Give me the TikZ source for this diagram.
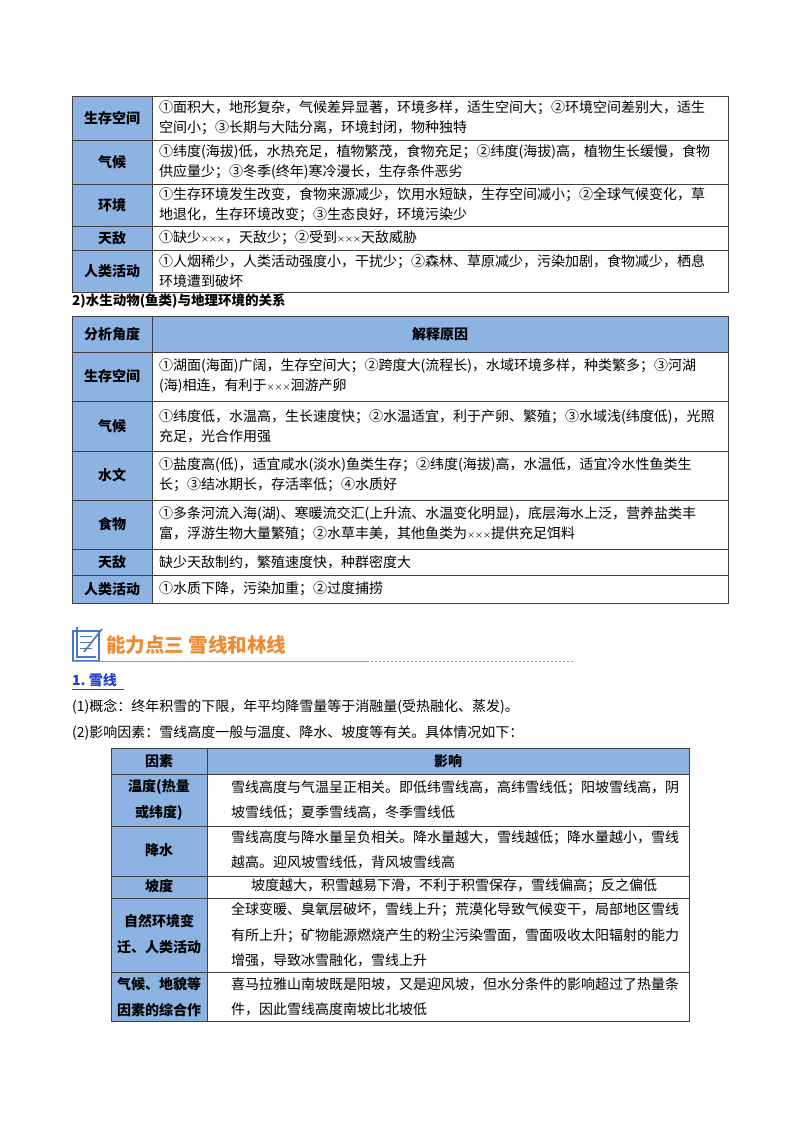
\documentclass[tikz,border=0pt]{standalone}
\usepackage{fontspec}
\setmainfont{Noto Sans CJK SC}
\definecolor{hdr}{HTML}{8DB3E2}
\definecolor{org}{HTML}{F08A2E}
\definecolor{lnk}{HTML}{1F3FD0}
\definecolor{ic}{HTML}{4A78C8}
\newcommand{\xxx}{{\fontsize{8}{8}\selectfont ×××}}
\begin{document}
\begin{tikzpicture}[x=1pt,y=-1pt,
  lab/.style={font=\fontsize{14}{18}\selectfont\bfseries,align=center,inner sep=0pt},
  txt/.style={font=\fontsize{14}{20}\selectfont,align=left,anchor=west,inner sep=0pt},
  txtb/.style={font=\fontsize{14}{25.5}\selectfont,align=left,anchor=west,inner sep=0pt},
  cell/.style={draw=black!75,line width=0.7pt},
  plain/.style={font=\fontsize{14}{18}\selectfont,anchor=west,inner sep=0pt}]
\useasboundingbox (0,0) rectangle (800,1132);
% ---------- Table 1
\fill[hdr] (72,96) rectangle (152,292);
\foreach \t/\b in {96/140,140/184,184/226,226/250,250/292}{
  \draw[cell] (72,\t) rectangle (152,\b);
  \draw[cell] (152,\t) rectangle (728,\b);}
\node[lab] (a1) at (112,118) {生存空间};
\node[txt] (b1) at (159,118) {①面积大，地形复杂，气候差异显著，环境多样，适生空间大；②环境空间差别大，适生\\空间小；③长期与大陆分离，环境封闭，物种独特};
\node[lab] (a2) at (112,162) {气候};
\node[txt] (b2) at (159,162) {①纬度(海拔)低，水热充足，植物繁茂，食物充足；②纬度(海拔)高，植物生长缓慢，食物\\供应量少；③冬季(终年)寒冷漫长，生存条件恶劣};
\node[lab] (a3) at (112,205) {环境};
\node[txt] (b3) at (159,205) {①生存环境发生改变，食物来源减少，饮用水短缺，生存空间减小；②全球气候变化，草\\地退化，生存环境改变；③生态良好，环境污染少};
\node[lab] (a4) at (112,238) {天敌};
\node[txt] (b4) at (159,238) {①缺少\xxx，天敌少；②受到\xxx 天敌威胁};
\node[lab] (a5) at (112,271) {人类活动};
\node[txt] (b5) at (159,271) {①人烟稀少，人类活动强度小，干扰少；②森林、草原减少，污染加剧，食物减少，栖息\\环境遭到破坏};
\node[plain,font=\fontsize{13.5}{16}\selectfont\bfseries] (cap) at (72,301) {2)水生动物(鱼类)与地理环境的关系};
% ---------- Table 2
\fill[hdr] (72,316) rectangle (728,352);
\fill[hdr] (72,352) rectangle (152,603);
\foreach \t/\b in {316/352,352/401,401/451,451/500,500/549,549/575,575/603}{
  \draw[cell] (72,\t) rectangle (152,\b);
  \draw[cell] (152,\t) rectangle (728,\b);}
\node[lab] (c0) at (112,334) {分析角度};
\node[lab] (d0) at (440,334) {解释原因};
\node[lab] (c1) at (112,376) {生存空间};
\node[txt] (d1) at (159,376) {①湖面(海面)广阔，生存空间大；②跨度大(流程长)，水域环境多样，种类繁多；③河湖\\(海)相连，有利于\xxx 洄游产卵};
\node[lab] (c2) at (112,426) {气候};
\node[txt] (d2) at (159,426) {①纬度低，水温高，生长速度快；②水温适宜，利于产卵、繁殖；③水域浅(纬度低)，光照\\充足，光合作用强};
\node[lab] (c3) at (112,475) {水文};
\node[txt] (d3) at (159,475) {①盐度高(低)，适宜咸水(淡水)鱼类生存；②纬度(海拔)高，水温低，适宜冷水性鱼类生\\长；③结冰期长，存活率低；④水质好};
\node[lab] (c4) at (112,524) {食物};
\node[txt] (d4) at (159,524) {①多条河流入海(湖)、寒暖流交汇(上升流、水温变化明显)，底层海水上泛，营养盐类丰\\富，浮游生物大量繁殖；②水草丰美，其他鱼类为\xxx 提供充足饵料};
\node[lab] (c5) at (112,562) {天敌};
\node[txt] (d5) at (159,562) {缺少天敌制约，繁殖速度快，种群密度大};
\node[lab] (c6) at (112,589) {人类活动};
\node[txt] (d6) at (159,589) {①水质下降，污染加重；②过度捕捞};
% ---------- Heading
\begin{scope}[line width=1.3pt,draw=ic]
\draw (73,631) rectangle (99,661);
\draw (77,627) -- (77,657) -- (96,657);
\foreach \yy in {636,642,648}{\draw[line width=0.9pt] (80,\yy) -- (92,\yy);}
\draw[line width=1.6pt] (84,652) -- (102,629);
\end{scope}
\node[plain,font=\fontsize{19.5}{24}\selectfont\bfseries,text=org] (h) at (106,645) {能力点三\ 雪线和林线};
\draw[ic!70,line width=0.8pt] (72,661) -- (367,661);
\draw[ic!70,line width=0.8pt,dash pattern=on 2pt off 2pt] (367,661) -- (574,661);
\node[plain,font=\fontsize{14}{18}\selectfont\bfseries,text=lnk] (s1) at (72,680) {1.\ 雪线};
\draw[lnk,line width=0.8pt] (72,689) -- (124,689);
\node[plain] (p1) at (72,707) {(1)概念：终年积雪的下限，年平均降雪量等于消融量(受热融化、蒸发)。};
\node[plain] (p2) at (72,733) {(2)影响因素：雪线高度一般与温度、降水、坡度等有关。具体情况如下：};
% ---------- Table 3
\fill[hdr] (111,748) rectangle (689,774);
\fill[hdr] (111,774) rectangle (207,1021);
\foreach \t/\b in {748/774,774/826,826/876,876/898,898/972,972/1021}{
  \draw[cell] (111,\t) rectangle (207,\b);
  \draw[cell] (207,\t) rectangle (689,\b);}
\node[lab] (e0) at (159,761) {因素};
\node[lab] (f0) at (448,761) {影响};
\node[lab,font=\fontsize{14}{25.5}\selectfont\bfseries] (e1) at (159,800) {温度(热量\\或纬度)};
\node[txtb] (f1) at (231,800) {雪线高度与气温呈正相关。即低纬雪线高，高纬雪线低；阳坡雪线高，阴\\坡雪线低；夏季雪线高，冬季雪线低};
\node[lab] (e2) at (159,850) {降水};
\node[txtb] (f2) at (231,850) {雪线高度与降水量呈负相关。降水量越大，雪线越低；降水量越小，雪线\\越高。迎风坡雪线低，背风坡雪线高};
\node[lab] (e3) at (159,886) {坡度};
\node[txtb] (f3) at (251,886) {坡度越大，积雪越易下滑，不利于积雪保存，雪线偏高；反之偏低};
\node[lab,font=\fontsize{14}{25.5}\selectfont\bfseries] (e4) at (159,934) {自然环境变\\迁、人类活动};
\node[txtb] (f4) at (231,935) {全球变暖、臭氧层破坏，雪线上升；荒漠化导致气候变干，局部地区雪线\\有所上升；矿物能源燃烧产生的粉尘污染雪面，雪面吸收太阳辐射的能力\\增强，导致冰雪融化，雪线上升};
\node[lab,font=\fontsize{14}{25.5}\selectfont\bfseries] (e5) at (159,997) {气候、地貌等\\因素的综合作};
\node[txtb] (f5) at (231,997) {喜马拉雅山南坡既是阳坡，又是迎风坡，但水分条件的影响超过了热量条\\件，因此雪线高度南坡比北坡低};
\end{tikzpicture}
\end{document}
